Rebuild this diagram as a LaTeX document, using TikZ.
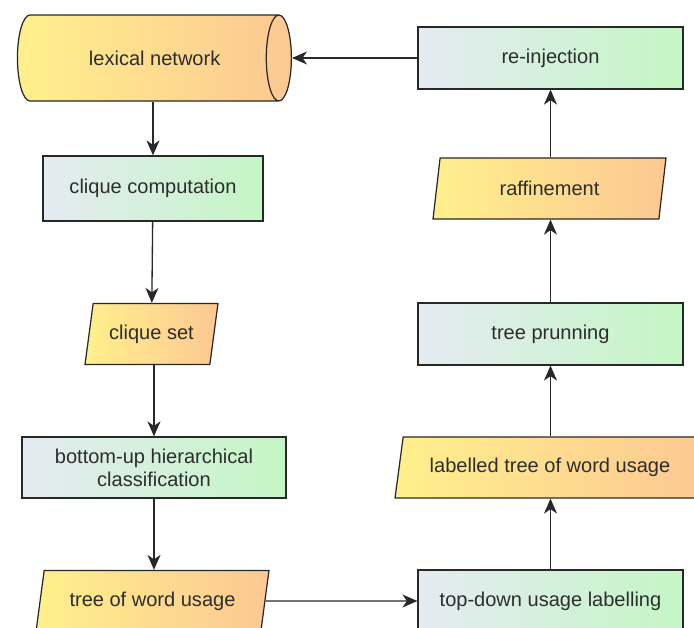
\documentclass[tikz,border=0pt]{standalone}
\usepackage{fontspec}
\setmainfont{Liberation Sans}
\usepackage{tikz}
\usetikzlibrary{shapes.geometric,arrows.meta}
\definecolor{ProcLeft}{RGB}{228,235,242}
\definecolor{ProcRight}{RGB}{196,246,196}
\definecolor{DataLeft}{RGB}{255,240,140}
\definecolor{DataRight}{RGB}{252,200,146}
\definecolor{EdgeGray}{RGB}{40,40,40}
\definecolor{TextGray}{RGB}{45,45,45}
\begin{document}
\begin{tikzpicture}[x=0.02cm,y=-0.02cm,every node/.style={font=\fontsize{11.4}{13.2}\selectfont,text=TextGray},
  procbox/.style={draw=EdgeGray,line width=0.7pt,left color=ProcLeft,right color=ProcRight,minimum width=5.3cm,minimum height=1.24cm,align=center},
  databox/.style={trapezium,trapezium left angle=75,trapezium right angle=105,trapezium stretches body,draw=EdgeGray,line width=0.7pt,left color=DataLeft,right color=DataRight,minimum height=1.22cm},
  flow/.style={-{Stealth[length=0.3cm,width=0.26cm,inset=0.09cm]},line width=0.75pt,EdgeGray}]
\clip (0,0) rectangle (694,628);
% left column
\node[cylinder,aspect=0.95,draw=EdgeGray,line width=0.7pt,left color=DataLeft,right color=DataRight,minimum height=5.48cm,minimum width=1.72cm,anchor=east] (lex) at (292,58) {\hspace*{0.4cm}lexical network};
\node[procbox,minimum width=4.4cm,minimum height=1.3cm] (cc) at (153,188.5) {clique computation};
\node[databox,minimum width=2.66cm] (cs) at (151.5,334) {clique set};
\node[procbox,minimum width=5.28cm,minimum height=1.22cm] (bu) at (154,467.5) {bottom-up hierarchical\\classification};
\node[databox,minimum width=4.66cm] (tw) at (152.5,601) {tree of word usage};
% right column
\node[procbox] (td) at (550.5,601) {top-down usage labelling};
\node[databox,minimum width=6.2cm] (lt) at (550,467.5) {labelled tree of word usage};
\node[procbox] (tp) at (550.5,334) {tree prunning};
\node[databox,minimum width=4.66cm] (rf) at (549.5,188.5) {raffinement};
\node[procbox] (ri) at (550.5,58) {re-injection};
% connectors
\draw[flow] (lex.south -| cc.north) -- (cc);
\draw[flow] (cc) -- (cs);
\draw[flow] (cs.south -| bu.north) -- (bu);
\draw[flow] (bu.south) -- (bu.south |- tw.north);
\draw[flow] (tw) -- (td);
\draw[flow] (td) -- (td |- lt.south);
\draw[flow] (lt.north -| tp.south) -- (tp);
\draw[flow] (tp) -- (tp |- rf.south);
\draw[flow] (rf.north -| ri.south) -- (ri);
\draw[flow] (ri) -- (lex.east);
\end{tikzpicture}
\end{document}
